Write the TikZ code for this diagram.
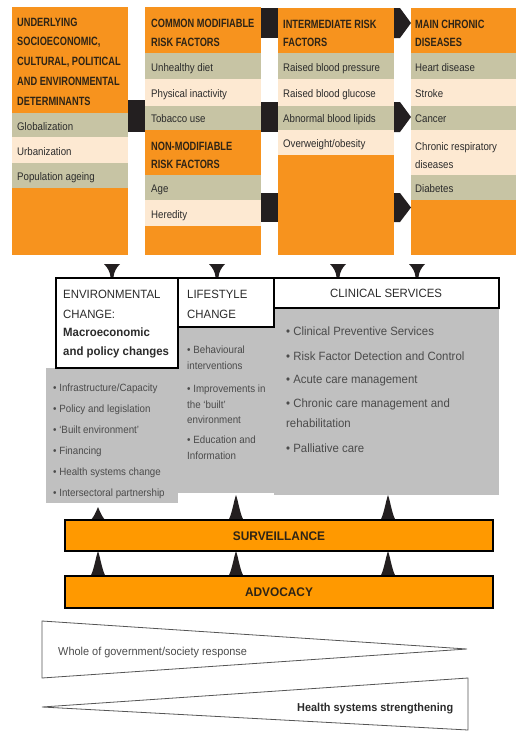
\documentclass[tikz,border=0pt]{standalone}
\usepackage{fontspec}
\setmainfont{Liberation Sans}
\newfontfamily\hdrf[FakeStretch=0.77]{Liberation Sans}
\newfontfamily\rowf[FakeStretch=0.88]{Liberation Sans}
\newfontfamily\midf[FakeStretch=0.95]{Liberation Sans}
\newfontfamily\bulf[FakeStretch=0.93]{Liberation Sans}
\definecolor{torange}{HTML}{F7931E}
\definecolor{khaki}{HTML}{C7C4A4}
\definecolor{peach}{HTML}{FDE9D2}
\definecolor{greyfill}{HTML}{C0C0C0}
\definecolor{barorange}{HTML}{FF9900}
\definecolor{txt}{HTML}{2B2B2B}
\definecolor{hdrtxt}{HTML}{2E2416}
\definecolor{conn}{HTML}{231F20}
\definecolor{wedge}{HTML}{555555}
\newcommand\dtri[1]{\fill[conn] ({#1-8},264) -- ({#1+8},264) .. controls ({#1+4},268) and ({#1+2},272) .. ({#1+1.5},277) -- ({#1-1.5},277) .. controls ({#1-2},272) and ({#1-4},268) .. ({#1-8},264) -- cycle;}
\newcommand\utri[3]{\fill[conn] ({#1-8.5},{#3}) .. controls ({#1-5},{#3-2}) and ({#1-2},{#2+5}) .. (#1,{#2}) .. controls ({#1+2},{#2+5}) and ({#1+5},{#3-2}) .. ({#1+8.5},{#3}) -- cycle;}
\newcommand\rarr[2]{\fill[conn] (394,{#1}) -- (400,{#1}) -- (411,{(#1+#2)/2}) -- (400,{#2}) -- (394,{#2}) -- cycle;}
\tikzset{
  hdr/.style={anchor=base west, inner sep=0, font=\hdrf\bfseries\fontsize{12}{14}\selectfont, text=hdrtxt},
  rowt/.style={anchor=base west, inner sep=0, font=\rowf\fontsize{11}{13}\selectfont, text=txt},
  midcap/.style={anchor=base west, inner sep=0, font=\midf\fontsize{12}{14}\selectfont, text=txt},
  midbold/.style={anchor=base west, inner sep=0, font=\midf\bfseries\fontsize{12}{14}\selectfont, text=txt},
  bul/.style={anchor=base west, inner sep=0, font=\bulf\fontsize{10.5}{12}\selectfont, text=txt!85!white},
  clin/.style={anchor=base west, inner sep=0, font=\midf\fontsize{12}{14}\selectfont, text=txt!85!white},
  bartext/.style={inner sep=0, font=\midf\bfseries\fontsize{12.5}{14}\selectfont, text=hdrtxt},
  midbox/.style={draw=black, line width=1.6pt, fill=white},
  bar/.style={draw=black, line width=2pt, fill=barorange},
  wedgeline/.style={draw=wedge, line width=0.8pt, line join=miter}
}
\begin{document}
\begin{tikzpicture}[x=1pt,y=-1pt]
\useasboundingbox (0,0) rectangle (516,731);
% ---------- top columns ----------
\fill[torange] (12,7) rectangle (128,255);
\fill[khaki] (12,113) rectangle (128,137);
\fill[peach] (12,137) rectangle (128,163);
\fill[khaki] (12,163) rectangle (128,188);
\fill[torange] (145,7) rectangle (261,255);
\fill[khaki] (145,53) rectangle (261,79);
\fill[peach] (145,79) rectangle (261,106);
\fill[khaki] (145,106) rectangle (261,130);
\fill[khaki] (145,175) rectangle (261,200);
\fill[peach] (145,200) rectangle (261,226);
\fill[torange] (278,8) rectangle (394,255);
\fill[khaki] (278,53) rectangle (394,79);
\fill[peach] (278,79) rectangle (394,106);
\fill[khaki] (278,106) rectangle (394,130);
\fill[peach] (278,130) rectangle (394,155);
\fill[torange] (411,8) rectangle (516,255);
\fill[khaki] (411,53) rectangle (516,79);
\fill[peach] (411,79) rectangle (516,106);
\fill[khaki] (411,106) rectangle (516,130);
\fill[peach] (411,130) rectangle (516,175);
\fill[khaki] (411,175) rectangle (516,200);
% connectors
\fill[conn] (128,100) rectangle (145,132);
\fill[conn] (261,8) rectangle (278,38);
\fill[conn] (261,102) rectangle (278,132);
\fill[conn] (261,193) rectangle (278,222);
\rarr{8}{38}
\rarr{102}{132}
\rarr{193}{222}
% column texts
\node[hdr] (a1) at (17,26) {UNDERLYING};
\node[hdr] (a2) at (17,45.75) {SOCIOECONOMIC,};
\node[hdr] (a3) at (17,65.5) {CULTURAL, POLITICAL};
\node[hdr] (a4) at (17,85.25) {AND ENVIRONMENTAL};
\node[hdr] (a5) at (17,105) {DETERMINANTS};
\node[rowt] (a6) at (17,130) {Globalization};
\node[rowt] (a7) at (17,155) {Urbanization};
\node[rowt] (a8) at (17,180) {Population ageing};
\node[hdr] (b1) at (151,27) {COMMON MODIFIABLE};
\node[hdr] (b2) at (151,46.5) {RISK FACTORS};
\node[rowt] (b3) at (151,71) {Unhealthy diet};
\node[rowt] (b4) at (151,97) {Physical inactivity};
\node[rowt] (b5) at (151,122) {Tobacco use};
\node[hdr] (b6) at (151,150) {NON-MODIFIABLE};
\node[hdr] (b7) at (151,168.5) {RISK FACTORS};
\node[rowt] (b8) at (151,192) {Age};
\node[rowt] (b9) at (151,218) {Heredity};
\node[hdr] (c1) at (283,28) {INTERMEDIATE RISK};
\node[hdr] (c2) at (283,46.5) {FACTORS};
\node[rowt] (c3) at (283,71) {Raised blood pressure};
\node[rowt] (c4) at (283,97) {Raised blood glucose};
\node[rowt] (c5) at (283,122) {Abnormal blood lipids};
\node[rowt] (c6) at (283,147) {Overweight/obesity};
\node[hdr] (d1) at (415,28) {MAIN CHRONIC};
\node[hdr] (d2) at (415,46.5) {DISEASES};
\node[rowt] (d3) at (415,71) {Heart disease};
\node[rowt] (d4) at (415,97) {Stroke};
\node[rowt] (d5) at (415,122) {Cancer};
\node[rowt] (d6) at (415,150) {Chronic respiratory};
\node[rowt] (d7) at (415,168) {diseases};
\node[rowt] (d8) at (415,192) {Diabetes};
% ---------- middle ----------
\fill[greyfill] (46,368) rectangle (178,503);
\fill[greyfill] (178,327) rectangle (282,493);
\fill[greyfill] (274,308) rectangle (499,495);
\dtri{112}
\dtri{217}
\dtri{338}
\dtri{417}
\draw[midbox] (56,278) rectangle (178,368);
\draw[midbox] (178,278) rectangle (274,327);
\draw[midbox] (274,278) rectangle (499,308);
\node[midcap] (e1) at (63,298) {ENVIRONMENTAL};
\node[midcap] (e2) at (63,318) {CHANGE:};
\node[midbold] (e3) at (63,336) {Macroeconomic};
\node[midbold] (e4) at (63,355) {and policy changes};
\node[midcap] (l1) at (187,298) {LIFESTYLE};
\node[midcap] (l2) at (187,318) {CHANGE};
\node[midcap, anchor=base] (s1) at (386,297) {CLINICAL SERVICES};
\node[bul] (e5) at (53,391) {• Infrastructure/Capacity};
\node[bul] (e6) at (53,412) {• Policy and legislation};
\node[bul] (e7) at (53,433) {• ‘Built environment’};
\node[bul] (e8) at (53,454) {• Financing};
\node[bul] (e9) at (53,475) {• Health systems change};
\node[bul] (e10) at (53,496) {• Intersectoral partnership};
\node[bul] (l3) at (187,353) {• Behavioural};
\node[bul] (l4) at (187,369) {interventions};
\node[bul] (l5) at (187,392) {• Improvements in};
\node[bul] (l6) at (187,408) {the ‘built’};
\node[bul] (l7) at (187,423) {environment};
\node[bul] (l8) at (187,443) {• Education and};
\node[bul] (l9) at (187,459) {Information};
\node[clin] (s2) at (286,335) {• Clinical Preventive Services};
\node[clin] (s3) at (286,360) {• Risk Factor Detection and Control};
\node[clin] (s4) at (286,383) {• Acute care management};
\node[clin] (s5) at (286,407) {• Chronic care management and};
\node[clin] (s6) at (286,427) {rehabilitation};
\node[clin] (s7) at (286,452) {• Palliative care};
% ---------- bars ----------
\utri{98}{507}{521}
\utri{236}{495}{521}
\utri{388}{495}{521}
\utri{98}{551}{577}
\utri{236}{551}{577}
\utri{388}{551}{577}
\draw[bar] (65,520) rectangle (493,551);
\draw[bar] (65,576) rectangle (493,608);
\node[bartext] (sv) at (279,536) {SURVEILLANCE};
\node[bartext] (ad) at (279,592) {ADVOCACY};
% ---------- wedges ----------
\draw[wedgeline] (42,621) -- (467,649) -- (42,678) -- cycle;
\draw[wedgeline] (468,678) -- (42,707) -- (468,730) -- cycle;
\node[anchor=base west, inner sep=0, font=\midf\fontsize{11.5}{13}\selectfont, text=txt!85!white] (w1) at (58,655) {Whole of government/society response};
\node[anchor=base west, inner sep=0, font=\midf\bfseries\fontsize{11.5}{13}\selectfont, text=txt] (w2) at (297,711) {Health systems strengthening};
\end{tikzpicture}
\end{document}
